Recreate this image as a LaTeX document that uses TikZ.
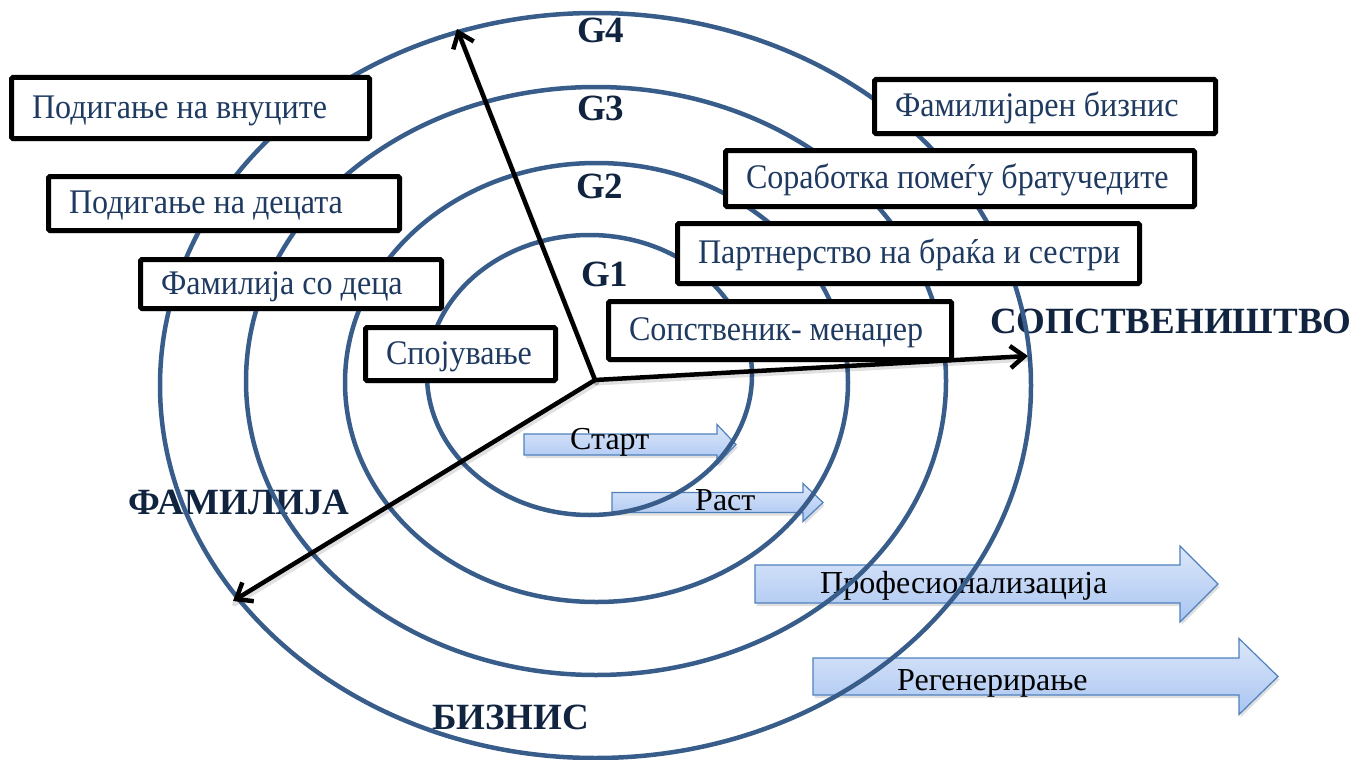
\documentclass[tikz,border=0pt]{standalone}
\usepackage{fontspec}
\setmainfont{Liberation Serif}
\newfontfamily\boxfont[FakeStretch=0.93]{Liberation Serif}
\usetikzlibrary{arrows.meta,shadows}

\definecolor{ringblue}{HTML}{385D8A}
\definecolor{boxink}{HTML}{1F3A60}
\definecolor{labelink}{HTML}{10233F}
\definecolor{flowtop}{HTML}{DCE7F9}
\definecolor{flowbot}{HTML}{A9C5F2}
\definecolor{flowedge}{HTML}{4F81BD}

\tikzset{
  ring/.style={draw=ringblue, line width=4.5pt},
  lbox/.style={draw=black, line width=5pt, fill=white, rounded corners=1.5pt,
    inner xsep=20.5pt, align=flush left, text=boxink,
    font=\boxfont\fontsize{34.5}{38}\selectfont, text height=24pt, text depth=4pt,
    drop shadow={opacity=0.15, shadow xshift=1pt, shadow yshift=-3pt}},
  flow/.style={draw=flowedge, line width=1.2pt, line join=miter,
    top color=flowtop, bottom color=flowbot,
    drop shadow={opacity=0.25, shadow xshift=1.5pt, shadow yshift=-3pt}},
  flowtext/.style={inner sep=0pt, anchor=base west, text=black,
    font=\fontsize{32}{36}\selectfont},
  biglabel/.style={inner sep=0pt, anchor=base west, text=labelink,
    font=\fontsize{37}{40}\selectfont\bfseries},
  axisline/.style={line width=4.5pt, line cap=round, line join=round,
    -{Straight Barb[length=14pt,width=22pt]}},
  axisshade/.style={line width=5pt, line cap=round, draw=black, opacity=0.12}
}

% block arrow: left x, head base x, tip x, centre y, body half height, head half height
\newcommand\flowarrow[6]{%
  \draw[flow] (#1,#4-#5) -- (#2,#4-#5) -- (#2,#4-#6) -- (#3,#4)
    -- (#2,#4+#6) -- (#2,#4+#5) -- (#1,#4+#5) -- cycle;}

\begin{document}
\begin{tikzpicture}[x=1pt,y=-1pt]
\useasboundingbox (0,0) rectangle (1368,760);

% stage arrows
\flowarrow{524}{717}{736}{444.5}{10.5}{20}
\node[flowtext] (start) at (570,449) {Старт};
\flowarrow{612}{803}{823}{502.5}{10}{19}
\node[flowtext] (growth) at (695,510) {Раст};
\flowarrow{755}{1180}{1218}{584}{19}{38}
\node[flowtext] (prof) at (820,593) {Професионализација};
\flowarrow{813}{1239}{1278}{676.5}{18.5}{38}
\node[flowtext] (regen) at (897,690) {Регенерирање};

% dimension and generation labels
\node[biglabel] (own) at (990,333) {СОПСТВЕНИШТВО};
\node[biglabel] (fam) at (128,514) {ФАМИЛИЈА};
\node[biglabel] (biz) at (432,729) {БИЗНИС};
\node[biglabel] (g4) at (577,43) {G4};
\node[biglabel] (g3) at (577,120) {G3};
\node[biglabel] (g2) at (576,198) {G2};
\node[biglabel] (g1) at (581,286) {G1};

% generation rings
\draw[ring] (589.5,375) ellipse [x radius=162.5pt, y radius=140pt];
\draw[ring] (596.5,382.5) ellipse [x radius=251.5pt, y radius=219.5pt];
\draw[ring] (596,381) ellipse [x radius=350pt, y radius=294pt];
\draw[ring] (595.5,385.5) ellipse [x radius=435.5pt, y radius=372.5pt];

% family stages
\node[lbox, text width=317pt, minimum height=61pt] (b1) at (190.5,108) {\mbox{Подигање на внуците}};
\node[lbox, text width=310pt, minimum height=54pt] (b2) at (224,203.5) {\mbox{Подигање на децата}};
\node[lbox, text width=260pt, minimum height=49pt] (b3) at (291,284) {\mbox{Фамилија со деца}};
\node[lbox, text width=149pt, minimum height=53pt] (b4) at (460.5,354) {\mbox{Спојување}};

% ownership stages
\node[lbox, text width=300pt, minimum height=54pt] (b5) at (1045,106.5) {\mbox{Фамилијарен бизнис}};
\node[lbox, text width=428pt, minimum height=56pt] (b6) at (960,178.5) {\mbox{Соработка помеѓу братучедите}};
\node[lbox, text width=421pt, minimum height=60pt] (b7) at (908.5,253.5) {\mbox{Партнерство на браќа и сестри}};
\node[lbox, text width=302pt, minimum height=58pt] (b8) at (780,330.5) {\mbox{Сопственик- менаџер}};

% axes
\coordinate (o) at (595,380);
\coordinate (ownend) at (1028,356);
\coordinate (genend) at (457,29);
\coordinate (famend) at (233,601);
\draw[axisshade] ([shift={(1.5,3)}]o) -- ([shift={(1.5,3)}]ownend);
\draw[axisshade] ([shift={(1.5,3)}]o) -- ([shift={(1.5,3)}]genend);
\draw[axisshade] ([shift={(1.5,3)}]o) -- ([shift={(1.5,3)}]famend);
\draw[axisline] (o) -- (ownend);
\draw[axisline] (o) -- (genend);
\draw[axisline] (o) -- (famend);
\end{tikzpicture}
\end{document}
